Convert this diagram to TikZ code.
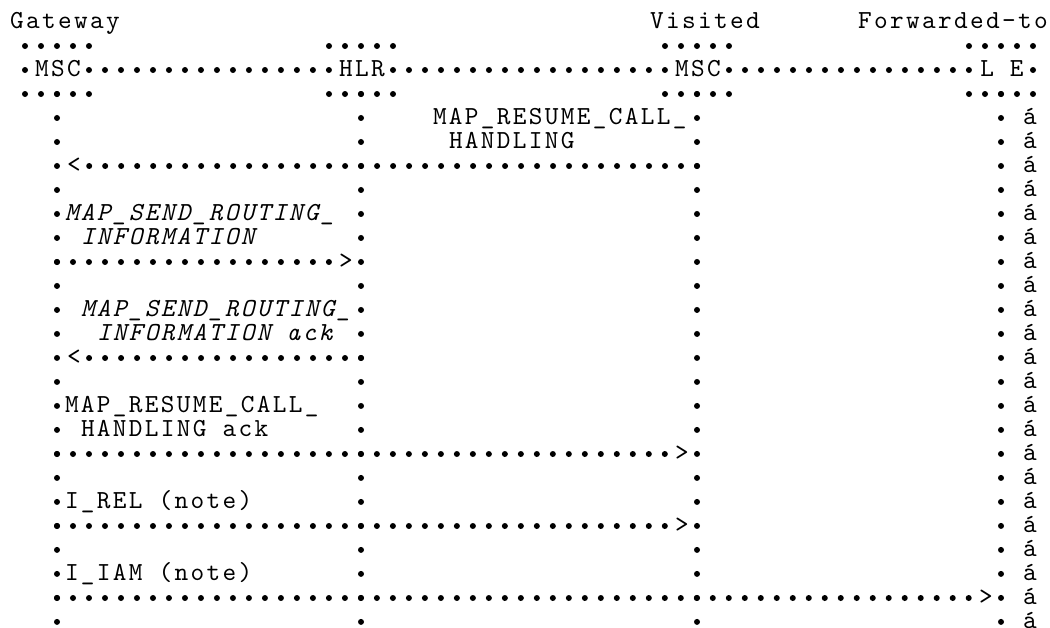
\documentclass[tikz,border=0pt]{standalone}
\usepackage{fontspec}
\usetikzlibrary{decorations.markings}
\newfontfamily\monof{lmmono10-regular.otf}[ItalicFont=lmmono10-italic.otf, LetterSpace=9]
\newcommand\mfont{\monof\fontsize{26}{30}\selectfont}
\begin{document}
\begin{tikzpicture}[x=1pt,y=-1pt,
  hdots/.style={decoration={markings, mark=between positions 0 and 1 step 15.995pt with {\fill circle (3pt);}}, decorate},
  vdots/.style={decoration={markings, mark=between positions 0 and 1 step 23.995pt with {\fill circle (3pt);}}, decorate},
  bul/.style={fill, circle, inner sep=0pt, minimum size=6pt},
  txt/.style={inner sep=0pt, outer sep=0pt, anchor=base west, font=\mfont, text depth=0pt},
  itxt/.style={txt, font=\mfont\itshape},
  ctxt/.style={inner sep=0pt, outer sep=0pt, anchor=base, font=\mfont},
  mk/.style={ctxt, text height=11pt, text depth=0pt}]
\useasboundingbox (0,0) rectangle (1050,627);
% headings
\node[ctxt] (hGW) at (65,28.5) {Gateway};
\node[ctxt] (hVis) at (705,28.5) {Visited};
\node[ctxt] (hFwd) at (953,28.5) {Forwarded-to};
% entity boxes
\foreach \c in {57,361,697,1001}{
  \path[hdots] (\c-32,46) -- (\c+32,46);
  \path[hdots] (\c-32,94) -- (\c+32,94);
}
\node[ctxt] (gw) at (58,76.5) {MSC};
\node[ctxt] (hlr) at (362,76.5) {HLR};
\node[ctxt] (vmsc) at (698,76.5) {MSC};
\node[ctxt] (le) at (1002,76.5) {L E};
\node[bul] (gwl) at (25,70) {};
\node[bul] (ler) at (1033,70) {};
\path[hdots] (89,70) -- (329,70);
\path[hdots] (393,70) -- (665,70);
\path[hdots] (729,70) -- (969,70);
% lifelines
\coordinate (G) at (57,94);  \coordinate (Gend) at (57,622);
\coordinate (H) at (361,94); \coordinate (Hend) at (361,622);
\coordinate (V) at (697,94); \coordinate (Vend) at (697,622);
\coordinate (L) at (1001,94); \coordinate (Lend) at (1001,622);
\path[vdots] (G) -- (Gend);
\path[vdots] (H) -- (Hend);
\path[vdots] (V) -- (Vend);
\path[vdots] (L) -- (Lend);
% message 1: MAP_RESUME_CALL_HANDLING (Visited MSC -> Gateway MSC)
\node[txt] (m1a) at (433,124.5) {MAP\_RESUME\_CALL\_};
\node[txt] (m1b) at (449,148.5) {HANDLING};
\coordinate (V7) at (697,166); \coordinate (G7) at (89,166);
\path[hdots] (V7) -- (G7);
\node[ctxt] (lt7) at (74,172.5) {<};
% message 2: MAP_SEND_ROUTING_INFORMATION
\node[itxt] (m2a) at (65,220.5) {MAP\_SEND\_ROUTING\_};
\node[itxt] (m2b) at (81,244.5) {INFORMATION};
\coordinate (G11) at (57,262); \coordinate (H11) at (329,262);
\path[hdots] (G11) -- (H11);
\node[ctxt] (gt11) at (346,268.5) {>};
% message 3: MAP_SEND_ROUTING_INFORMATION ack
\node[itxt] (m3a) at (81,316.5) {MAP\_SEND\_ROUTING\_};
\node[itxt] (m3b) at (97,340.5) {INFORMATION ack};
\coordinate (H15) at (361,358); \coordinate (G15) at (89,358);
\path[hdots] (H15) -- (G15);
\node[ctxt] (lt15) at (74,364.5) {<};
% message 4: MAP_RESUME_CALL_HANDLING ack
\node[txt] (m4a) at (65,412.5) {MAP\_RESUME\_CALL\_};
\node[txt] (m4b) at (81,436.5) {HANDLING ack};
\coordinate (G19) at (57,454); \coordinate (V19) at (665,454);
\path[hdots] (G19) -- (V19);
\node[ctxt] (gt19) at (682,460.5) {>};
% message 5: I_REL
\node[txt] (m5) at (65,508.5) {I\_REL (note)};
\coordinate (G22) at (57,526); \coordinate (V22) at (665,526);
\path[hdots] (G22) -- (V22);
\node[ctxt] (gt22) at (682,532.5) {>};
% message 6: I_IAM
\node[txt] (m6) at (65,580.5) {I\_IAM (note)};
\coordinate (G25) at (57,598); \coordinate (L25) at (969,598);
\path[hdots] (G25) -- (L25);
\node[ctxt] (gt25) at (986,604.5) {>};
% right column marks
\foreach \k in {5,...,26}{
  \node[mk] (a\k) at (1030,{28.5+24*(\k-1)}) {á};
}
\end{tikzpicture}
\end{document}
